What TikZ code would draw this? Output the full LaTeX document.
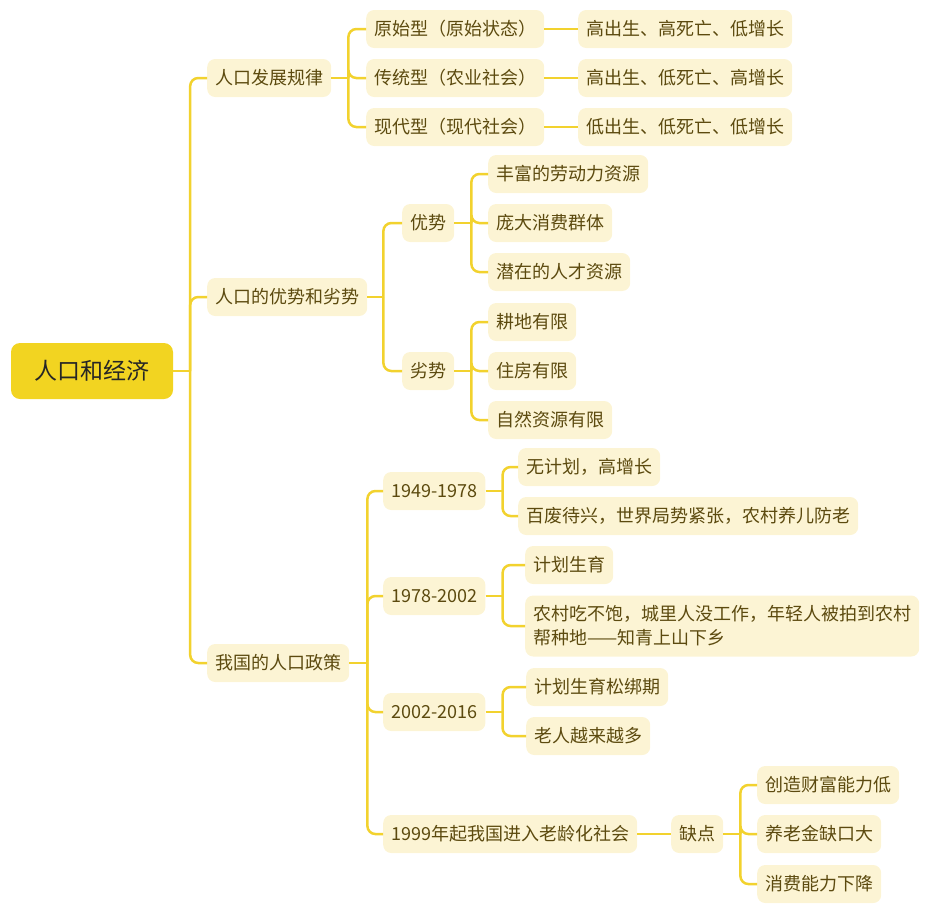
\documentclass[tikz,border=0pt]{standalone}
\usepackage{fontspec}
\setmainfont{Noto Sans CJK SC}

\definecolor{linecol}{HTML}{F2D22E}
\definecolor{boxcol}{HTML}{FCF4D4}
\definecolor{rootcol}{HTML}{F2D421}
\definecolor{textcol}{HTML}{5C4A0F}

\tikzset{
    topic/.style={fill=boxcol, text=textcol, rounded corners=8pt, inner xsep=8pt,
        inner ysep=0pt, minimum height=38pt, anchor=west, font=\fontsize{18}{24}\selectfont},
    root/.style={fill=rootcol, text=black!85, rounded corners=9pt, minimum width=162pt,
        minimum height=56pt, font=\fontsize{23}{28}\selectfont},
    link/.style={draw=linecol, line width=2.5pt, rounded corners=8pt}
}

\begin{document}
\begin{tikzpicture}[x=1pt,y=-1pt]
        \useasboundingbox (0,0) rectangle (936,914);
        \node[root] (main) at (92,371) {人口和经济};

        % first level
        \node[topic] (law) at (207,78) {人口发展规律};
        \node[topic] (pros) at (207,297) {人口的优势和劣势};
        \node[topic] (policy) at (207,663) {我国的人口政策};

        % population types
        \node[topic] (t1) at (366,29) {原始型（原始状态）};
        \node[topic] (t2) at (366,78) {传统型（农业社会）};
        \node[topic] (t3) at (366,127) {现代型（现代社会）};
        \node[topic] (f1) at (578,29) {高出生、高死亡、低增长};
        \node[topic] (f2) at (578,78) {高出生、低死亡、高增长};
        \node[topic] (f3) at (578,127) {低出生、低死亡、低增长};

        % advantages and disadvantages
        \node[topic] (adv) at (402,223) {优势};
        \node[topic] (dis) at (402,371) {劣势};
        \node[topic] (a1) at (488,174) {丰富的劳动力资源};
        \node[topic] (a2) at (488,223) {庞大消费群体};
        \node[topic] (a3) at (488,272) {潜在的人才资源};
        \node[topic] (d1) at (488,322) {耕地有限};
        \node[topic] (d2) at (488,371) {住房有限};
        \node[topic] (d3) at (488,420) {自然资源有限};

        % policy periods
        \node[topic] (p1) at (383,491) {1949-1978};
        \node[topic] (p2) at (383,596) {1978-2002};
        \node[topic] (p3) at (383,712) {2002-2016};
        \node[topic] (p4) at (383,834) {1999年起我国进入老龄化社会};
        \node[topic] (p1a) at (518,467) {无计划，高增长};
        \node[topic] (p1b) at (518,516) {百废待兴，世界局势紧张，农村养儿防老};
        \node[topic] (p2a) at (525,565) {计划生育};
        \node[topic, align=left, minimum height=61pt] (p2b) at (525,626)
            {农村吃不饱，城里人没工作，年轻人被拍到农村\\帮种地——知青上山下乡};
        \node[topic] (p3a) at (526,687) {计划生育松绑期};
        \node[topic] (p3b) at (526,736) {老人越来越多};
        \node[topic] (weak) at (671,834) {缺点};
        \node[topic] (w1) at (757,785) {创造财富能力低};
        \node[topic] (w2) at (757,834) {养老金缺口大};
        \node[topic] (w3) at (757,884) {消费能力下降};

        % connectors
        \draw[link] (main.east) -- ++(17,0) coordinate (mainJ);
        \foreach \c in {law,pros,policy} \draw[link] (mainJ) |- (\c.west);

        \draw[link] (law.east) -- ++(17,0) coordinate (lawJ);
        \foreach \c in {t1,t2,t3} \draw[link] (lawJ) |- (\c.west);
        \foreach \i in {1,2,3} \draw[link] (t\i.east) -- (f\i.west);

        \draw[link] (pros.east) -- ++(16,0) coordinate (prosJ);
        \foreach \c in {adv,dis} \draw[link] (prosJ) |- (\c.west);
        \draw[link] (adv.east) -- ++(17,0) coordinate (advJ);
        \foreach \c in {a1,a2,a3} \draw[link] (advJ) |- (\c.west);
        \draw[link] (dis.east) -- ++(17,0) coordinate (disJ);
        \foreach \c in {d1,d2,d3} \draw[link] (disJ) |- (\c.west);

        \draw[link] (policy.east) -- ++(18,0) coordinate (policyJ);
        \foreach \c in {p1,p2,p3,p4} \draw[link] (policyJ) |- (\c.west);
        \draw[link] (p1.east) -- ++(17,0) coordinate (p1J);
        \foreach \c in {p1a,p1b} \draw[link] (p1J) |- (\c.west);
        \draw[link] (p2.east) -- ++(17,0) coordinate (p2J);
        \foreach \c in {p2a,p2b} \draw[link] (p2J) |- (\c.west);
        \draw[link] (p3.east) -- ++(17,0) coordinate (p3J);
        \foreach \c in {p3a,p3b} \draw[link] (p3J) |- (\c.west);
        \draw[link] (p4.east) -- (weak.west);
        \draw[link] (weak.east) -- ++(17,0) coordinate (weakJ);
        \foreach \c in {w1,w2,w3} \draw[link] (weakJ) |- (\c.west);
\end{tikzpicture}
\end{document}
